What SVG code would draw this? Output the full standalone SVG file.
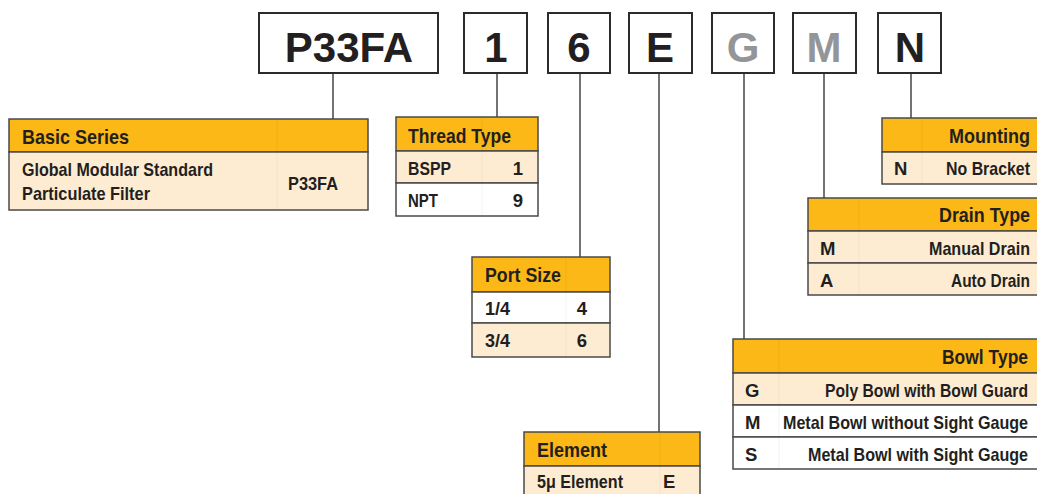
<svg xmlns="http://www.w3.org/2000/svg" width="1037" height="494" viewBox="0 0 1037 494">
<style>
.code{fill:#fff;stroke:#2b2b2b;stroke-width:2}
.ct{font-family:"Liberation Sans",Arial,sans-serif;font-weight:bold;font-size:42px;fill:#231f20;text-anchor:middle}
.gray{fill:#939598}
.hd{fill:#fbb817;stroke:#4a4a4a;stroke-width:1.5}
.cr{fill:#feecd2;stroke:#4a4a4a;stroke-width:1.5}
.wh{fill:#fff;stroke:#4a4a4a;stroke-width:1.5}
.dv{stroke:#000;stroke-opacity:0.05;stroke-width:1}
.t{font-family:"Liberation Sans",Arial,sans-serif;font-weight:bold;fill:#231f20;font-size:18.5px}
.h{font-size:21px}
.r{text-anchor:end}
#connectors line{stroke:#444;stroke-width:1.5}
</style>

<g id="connectors">
<line x1="333" y1="73" x2="333" y2="119"/>
<line x1="497" y1="73" x2="497" y2="117"/>
<line x1="580" y1="73" x2="580" y2="257"/>
<line x1="659" y1="73" x2="659" y2="432"/>
<line x1="744" y1="73" x2="744" y2="339"/>
<line x1="824" y1="73" x2="824" y2="198"/>
<line x1="911" y1="73" x2="911" y2="118"/>
</g>

<g id="code-boxes">
<g id="code-p33fa"><rect class="code" x="259" y="13" width="179" height="60"/><text class="ct" x="349" y="62">P33FA</text></g>
<g id="code-1"><rect class="code" x="464" y="13" width="63" height="60"/><text class="ct" x="496" y="62">1</text></g>
<g id="code-6"><rect class="code" x="548" y="13" width="62" height="60"/><text class="ct" x="579" y="62">6</text></g>
<g id="code-e"><rect class="code" x="629" y="13" width="63" height="60"/><text class="ct" x="660" y="62">E</text></g>
<g id="code-g"><rect class="code" x="712" y="13" width="62" height="60"/><text class="ct gray" x="743" y="62">G</text></g>
<g id="code-m"><rect class="code" x="793" y="13" width="63" height="60"/><text class="ct gray" x="824" y="62">M</text></g>
<g id="code-n"><rect class="code" x="878" y="13" width="63" height="60"/><text class="ct" x="910" y="62">N</text></g>
</g>

<g id="basic-series">
<rect class="hd" x="9" y="119" width="359" height="33"/>
<rect class="cr" x="9" y="152" width="359" height="58"/>
<line class="dv" x1="277" y1="120" x2="277" y2="209"/>
<text class="t h" x="22" y="144" textLength="107" lengthAdjust="spacingAndGlyphs">Basic Series</text>
<text class="t" x="22" y="176" textLength="191" lengthAdjust="spacingAndGlyphs">Global Modular Standard</text>
<text class="t" x="22" y="200" textLength="128" lengthAdjust="spacingAndGlyphs">Particulate Filter</text>
<text class="t" x="288" y="190" textLength="50" lengthAdjust="spacingAndGlyphs">P33FA</text>
</g>

<g id="thread-type">
<rect class="hd" x="396" y="117" width="142" height="34"/>
<rect class="cr" x="396" y="151" width="142" height="32"/>
<rect class="wh" x="396" y="183" width="142" height="33"/>
<line class="dv" x1="482" y1="118" x2="482" y2="215"/>
<text class="t h" x="408" y="143" textLength="103" lengthAdjust="spacingAndGlyphs">Thread Type</text>
<text class="t" x="408" y="175" textLength="43" lengthAdjust="spacingAndGlyphs">BSPP</text>
<text class="t r" x="523" y="175">1</text>
<text class="t" x="408" y="207" textLength="30" lengthAdjust="spacingAndGlyphs">NPT</text>
<text class="t r" x="523" y="207">9</text>
</g>

<g id="port-size">
<rect class="hd" x="472" y="257" width="138" height="35"/>
<rect class="wh" x="472" y="292" width="138" height="31"/>
<rect class="cr" x="472" y="323" width="138" height="34"/>
<line class="dv" x1="566" y1="258" x2="566" y2="356"/>
<text class="t h" x="485" y="282" textLength="76" lengthAdjust="spacingAndGlyphs">Port Size</text>
<text class="t" x="485" y="315" textLength="25" lengthAdjust="spacingAndGlyphs">1/4</text>
<text class="t r" x="587" y="315">4</text>
<text class="t" x="485" y="347" textLength="25" lengthAdjust="spacingAndGlyphs">3/4</text>
<text class="t r" x="587" y="347">6</text>
</g>

<g id="element">
<rect class="hd" x="524" y="432" width="176" height="34"/>
<rect class="cr" x="524" y="466" width="176" height="32"/>
<line class="dv" x1="660" y1="433" x2="660" y2="494"/>
<text class="t h" x="537" y="457" textLength="70" lengthAdjust="spacingAndGlyphs">Element</text>
<text class="t" x="537" y="488" textLength="86" lengthAdjust="spacingAndGlyphs">5μ Element</text>
<text class="t" x="663" y="488">E</text>
</g>

<g id="bowl-type">
<rect class="hd" x="733" y="339" width="307" height="34"/>
<rect class="cr" x="733" y="373" width="307" height="32"/>
<rect class="wh" x="733" y="405" width="307" height="32"/>
<rect class="wh" x="733" y="437" width="307" height="32"/>
<line class="dv" x1="779" y1="340" x2="779" y2="468"/>
<text class="t h r" x="1028" y="364" textLength="86" lengthAdjust="spacingAndGlyphs">Bowl Type</text>
<text class="t" x="745" y="397">G</text>
<text class="t r" x="1028" y="397" textLength="203" lengthAdjust="spacingAndGlyphs">Poly Bowl with Bowl Guard</text>
<text class="t" x="745" y="429">M</text>
<text class="t r" x="1028" y="429" textLength="245" lengthAdjust="spacingAndGlyphs">Metal Bowl without Sight Gauge</text>
<text class="t" x="745" y="461">S</text>
<text class="t r" x="1028" y="461" textLength="220" lengthAdjust="spacingAndGlyphs">Metal Bowl with Sight Gauge</text>
</g>

<g id="mounting">
<rect class="hd" x="882" y="118" width="158" height="34"/>
<rect class="cr" x="882" y="152" width="158" height="32"/>
<line class="dv" x1="922" y1="119" x2="922" y2="183"/>
<text class="t h r" x="1030" y="143" textLength="81" lengthAdjust="spacingAndGlyphs">Mounting</text>
<text class="t" x="894" y="175">N</text>
<text class="t r" x="1030" y="175" textLength="84" lengthAdjust="spacingAndGlyphs">No Bracket</text>
</g>

<g id="drain-type">
<rect class="hd" x="808" y="198" width="232" height="33"/>
<rect class="cr" x="808" y="231" width="232" height="32"/>
<rect class="cr" x="808" y="263" width="232" height="32"/>
<line class="dv" x1="859" y1="199" x2="859" y2="294"/>
<text class="t h r" x="1030" y="222" textLength="91" lengthAdjust="spacingAndGlyphs">Drain Type</text>
<text class="t" x="820" y="255">M</text>
<text class="t r" x="1030" y="255" textLength="101" lengthAdjust="spacingAndGlyphs">Manual Drain</text>
<text class="t" x="820" y="287">A</text>
<text class="t r" x="1030" y="287" textLength="79" lengthAdjust="spacingAndGlyphs">Auto Drain</text>
</g>
</svg>
